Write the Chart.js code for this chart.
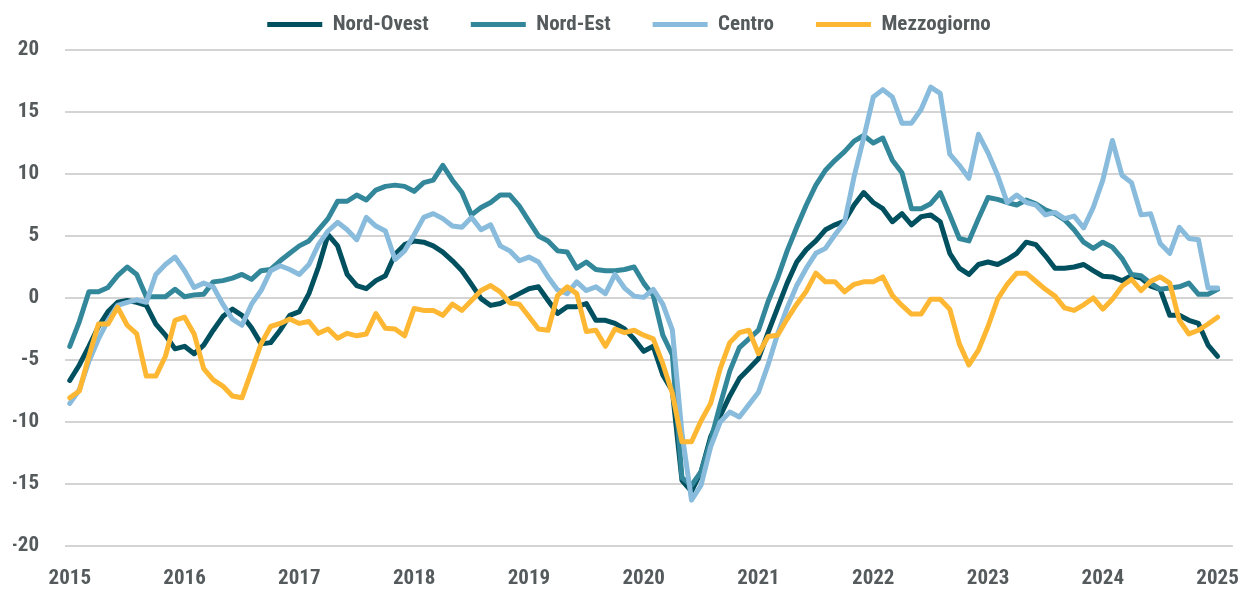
<!DOCTYPE html>
<html>
<head>
<meta charset="utf-8">
<script src="https://cdn.jsdelivr.net/npm/chart.js@4/dist/chart.umd.min.js"></script>
<style>
  html, body { margin: 0; padding: 0; background: #fff; }
</style>
</head>
<body>
<canvas id="grafico" width="1259" height="589"></canvas>
<script>
// anni sull'asse x (un tick ogni 12 mesi, da gennaio 2015)
const anni = ['2015', '2016', '2017', '2018', '2019', '2020', '2021', '2022', '2023', '2024', '2025'];
const aree = ['Nord-Ovest', 'Nord-Est', 'Centro', 'Mezzogiorno'];

// valori mensili, gen 2015 - gen 2025
const nordOvest = [
  -6.65, -5.4, -3.9, -2.3, -1.1, -0.35, -0.2, -0.35, -0.6, -2.1, -3.0, -4.1,
  -3.9, -4.5, -3.8, -2.6, -1.5, -0.9, -1.4, -2.4, -3.7, -3.6, -2.6, -1.4,
  -1.1, 0.35, 2.5, 5.1, 4.2, 1.9, 1.0, 0.75, 1.4, 1.8, 3.5, 4.3,
  4.6, 4.5, 4.2, 3.7, 3.0, 2.2, 1.1, -0.05, -0.6, -0.45, -0.05, 0.35,
  0.75, 0.9, -0.2, -1.25, -0.7, -0.7, -0.45, -1.8, -1.8, -2.05, -2.5, -3.3,
  -4.3, -3.9, -6.2, -7.5, -14.7, -15.6, -14.0, -11.2, -9.5, -7.9, -6.5, -5.7,
  -4.9, -2.8, -0.8, 1.2, 2.9, 3.9, 4.6, 5.5, 5.9, 6.2, 7.5, 8.5,
  7.7, 7.2, 6.15, 6.8, 5.9, 6.55, 6.7, 6.15, 3.6, 2.4, 1.9, 2.7,
  2.9, 2.7, 3.1, 3.6, 4.5, 4.3, 3.4, 2.4, 2.4, 2.5, 2.7, 2.2,
  1.75, 1.7, 1.4, 1.8, 1.6, 0.95, 0.7, -1.4, -1.4, -1.8, -2.05, -3.8,
  -4.7
];
const nordEst = [
  -3.9, -1.9, 0.5, 0.5, 0.85, 1.8, 2.5, 1.9, 0.1, 0.1, 0.1, 0.7,
  0.1, 0.25, 0.3, 1.3, 1.4, 1.6, 1.9, 1.5, 2.2, 2.3, 3.0, 3.6,
  4.2, 4.6, 5.5, 6.4, 7.8, 7.8, 8.3, 7.9, 8.7, 9.0, 9.1, 9.0,
  8.6, 9.3, 9.5, 10.7, 9.5, 8.5, 6.7, 7.3, 7.7, 8.3, 8.3, 7.4,
  6.2, 5.0, 4.6, 3.8, 3.7, 2.4, 2.9, 2.3, 2.2, 2.2, 2.3, 2.5,
  1.2, 0.2, -3.0, -4.6, -14.5, -15.1, -14.0, -11.5, -8.6, -5.9, -4.0, -3.3,
  -2.6, -0.3, 1.6, 3.8, 5.7, 7.5, 9.1, 10.3, 11.1, 11.8, 12.65, 13.1,
  12.5, 12.9, 11.1, 10.1, 7.2, 7.2, 7.6, 8.5, 6.7, 4.8, 4.6, 6.4,
  8.1, 7.95, 7.7, 7.5, 7.9, 7.6, 7.1, 6.8, 6.3, 5.5, 4.5, 4.0,
  4.5, 4.1, 3.2, 1.9, 1.8, 1.2, 0.7, 0.8, 0.9, 1.2, 0.3, 0.3,
  0.7
];
const centro = [
  -8.5, -7.4, -5.1, -3.3, -1.8, -0.6, -0.35, -0.15, -0.35, 1.9, 2.7, 3.3,
  2.2, 0.85, 1.2, 0.9, -0.5, -1.7, -2.2, -0.5, 0.6, 2.2, 2.6, 2.3,
  1.9, 2.7, 4.3, 5.4, 6.1, 5.5, 4.7, 6.5, 5.8, 5.4, 3.1, 3.8,
  5.1, 6.5, 6.8, 6.4, 5.8, 5.7, 6.5, 5.5, 5.9, 4.2, 3.8, 3.0,
  3.3, 2.9, 1.7, 0.65, 0.35, 1.3, 0.6, 0.9, 0.35, 1.9, 0.8, 0.15,
  0.05, 0.7, -0.5, -2.6, -10.9, -16.3, -15.1, -12.0, -10.0, -9.2, -9.6, -8.6,
  -7.6, -5.4, -2.9, -0.8, 1.0, 2.4, 3.6, 4.0, 5.1, 6.1, 9.8, 12.9,
  16.2, 16.8, 16.2, 14.1, 14.1, 15.2, 17.0, 16.5, 11.6, 10.7, 9.65, 13.2,
  11.7, 9.9, 7.7, 8.3, 7.7, 7.5, 6.7, 6.9, 6.4, 6.6, 5.65, 7.3,
  9.5, 12.7, 9.9, 9.3, 6.7, 6.8, 4.4, 3.6, 5.7, 4.8, 4.7, 0.8,
  0.8
];
const mezzogiorno = [
  -8.05, -7.5, -4.7, -2.1, -2.1, -0.75, -2.2, -2.9, -6.3, -6.3, -4.7, -1.8,
  -1.55, -2.9, -5.7, -6.6, -7.1, -7.9, -8.05, -5.9, -3.7, -2.3, -2.05, -1.7,
  -2.05, -1.9, -2.85, -2.5, -3.25, -2.85, -3.05, -2.9, -1.25, -2.45, -2.5, -3.05,
  -0.85, -1.0, -1.0, -1.4, -0.5, -1.0, -0.2, 0.6, 1.0, 0.5, -0.4, -0.5,
  -1.5, -2.5, -2.6, 0.2, 0.9, 0.35, -2.7, -2.6, -3.9, -2.5, -2.8, -2.6,
  -3.0, -3.3, -5.3, -7.7, -11.6, -11.6, -9.9, -8.5, -5.7, -3.6, -2.8, -2.6,
  -4.5, -3.1, -3.0, -1.7, -0.5, 0.55, 2.0, 1.3, 1.3, 0.5, 1.1, 1.3,
  1.3, 1.7, 0.2, -0.6, -1.3, -1.3, -0.1, -0.1, -0.9, -3.7, -5.4, -4.2,
  -2.3, -0.1, 1.1, 2.0, 2.0, 1.35, 0.7, 0.15, -0.8, -1.0, -0.55, 0.0,
  -0.9, -0.1, 0.95, 1.5, 0.6, 1.35, 1.7, 1.2, -1.8, -2.9, -2.6, -2.1,
  -1.55
];

const colori = ['#01505f', '#33879a', '#88bbdc', '#fdb733'];
const serie = [nordOvest, nordEst, centro, mezzogiorno];

const fontFamily = "'Roboto Condensed', Roboto, sans-serif";
const grigioTesto = '#555a5d';
const fontTesto = { family: fontFamily, size: 21, weight: 'bold' };

const datasets = serie.map((valori, i) => ({
  label: aree[i],
  data: valori.map((v, mese) => ({ x: mese, y: v })),
  borderColor: colori[i],
  backgroundColor: colori[i],
  borderWidth: 5,
  borderCapStyle: 'round',
  borderJoinStyle: 'round',
  pointRadius: 0,
  tension: 0,
  order: serie.length - i   // le ultime serie sopra, come nell'originale
}));

new Chart(document.getElementById('grafico'), {
  type: 'line',
  data: { datasets },
  options: {
    responsive: false,
    animation: false,
    devicePixelRatio: 1,
    layout: { padding: { top: -28, left: 13, right: 14, bottom: 0 } },
    plugins: {
      tooltip: { enabled: false },
      legend: {
        position: 'top',
        labels: {
          usePointStyle: true,
          pointStyle: 'line',
          pointStyleWidth: 55,
          padding: 42,
          color: grigioTesto,
          font: fontTesto,
          sort: (a, b) => a.datasetIndex - b.datasetIndex
        }
      }
    },
    scales: {
      x: {
        type: 'linear',
        min: -0.5,
        max: 121.6,
        grid: { display: false, drawTicks: false },
        border: { display: false },
        afterFit: (scale) => { scale.height = 43; },
        ticks: {
          stepSize: 12,
          autoSkip: false,
          includeBounds: false,
          maxRotation: 0,
          padding: 20,
          color: grigioTesto,
          font: fontTesto,
          callback: (value) => anni[value / 12]
        }
      },
      y: {
        min: -20,
        max: 20.4,
        grid: { color: '#d4d4d4', lineWidth: 2, drawTicks: false },
        border: { display: false },
        afterFit: (scale) => { scale.width = 52; },
        ticks: {
          stepSize: 5,
          includeBounds: false,
          padding: 26,
          color: grigioTesto,
          font: fontTesto
        }
      }
    }
  }
});
</script>
</body>
</html>
